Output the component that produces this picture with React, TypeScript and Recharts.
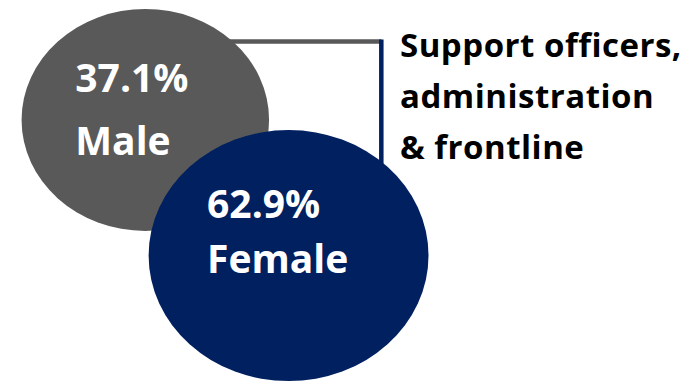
import React from 'react';
import { ScatterChart, Scatter, XAxis, YAxis, ZAxis } from 'recharts';

// groups and their share of staff
const groups = ['Male', 'Female'];
const shares = [37.1, 62.9];
// bubble centres in chart units (0-100 on both axes)
const centreX = [21, 41.7];
const centreY = [68.6, 33.1];
const headingLines = ['Support officers,', 'administration', '& frontline'];

const COLORS = ['#595959', '#002060'];
const FONT = '"Open Sans", Lato, sans-serif';
const STRETCH = 1.115; // bubbles are a touch wider than tall
// label placement relative to each bubble centre: [dx, dy first line, dy second line]
const LABEL_POS = [
  [-70, -28, 35],
  [-81.5, -37.5, 17.5],
];

const points = groups.map((name, i) => ({
  name,
  share: shares[i],
  x: centreX[i],
  y: centreY[i],
}));

const Bubble = (props: any) => {
  const { cx, cy, height, index, payload } = props;
  const i = groups.indexOf(payload.name);
  const ry = height / 2;
  const rx = ry * STRETCH;
  const [dx, dy1, dy2] = LABEL_POS[i];
  return (
    <g key={index}>
      {i === 0 && (
        <g>
          <line x1={cx} y1={cy - 78.5} x2={cx + 236} y2={cy - 78.5} stroke={COLORS[0]} strokeWidth={4.5} />
          <line x1={cx + 236} y1={cy - 80.5} x2={cx + 236} y2={cy + 80} stroke={COLORS[1]} strokeWidth={4.5} />
        </g>
      )}
      <ellipse cx={cx} cy={cy} rx={rx} ry={ry} fill={COLORS[i]} />
      <text x={cx + dx} y={cy + dy1} fill="#fff" fontFamily={FONT} fontWeight={700} fontSize={39}>
        {`${payload.share}%`}
      </text>
      <text x={cx + dx} y={cy + dy2} fill="#fff" fontFamily={FONT} fontWeight={700} fontSize={39}>
        {payload.name}
      </text>
    </g>
  );
};

const App: React.FC = () => {
  return (
    <div style={{ position: 'absolute', left: 0, top: 0, width: 692, height: 382, background: '#fff' }}>
      <ScatterChart width={692} height={382} margin={{ top: 0, right: 0, bottom: 0, left: 0 }}>
        <XAxis type="number" dataKey="x" domain={[0, 100]} hide />
        <YAxis type="number" dataKey="y" domain={[0, 100]} hide />
        <ZAxis type="number" dataKey="share" domain={[37.1, 62.9]} range={[38700, 49500]} />
        {points.map((p) => (
          <Scatter key={p.name} data={[p]} shape={<Bubble />} isAnimationActive={false} />
        ))}
      </ScatterChart>
      <div
        style={{
          position: 'absolute',
          left: 400,
          top: 19,
          fontFamily: FONT,
          fontWeight: 700,
          fontSize: 33,
          letterSpacing: 0.5,
          lineHeight: '51px',
          color: '#000',
          whiteSpace: 'nowrap',
        }}
      >
        {headingLines.map((line) => (
          <div key={line}>{line}</div>
        ))}
      </div>
    </div>
  );
};

export default App;
